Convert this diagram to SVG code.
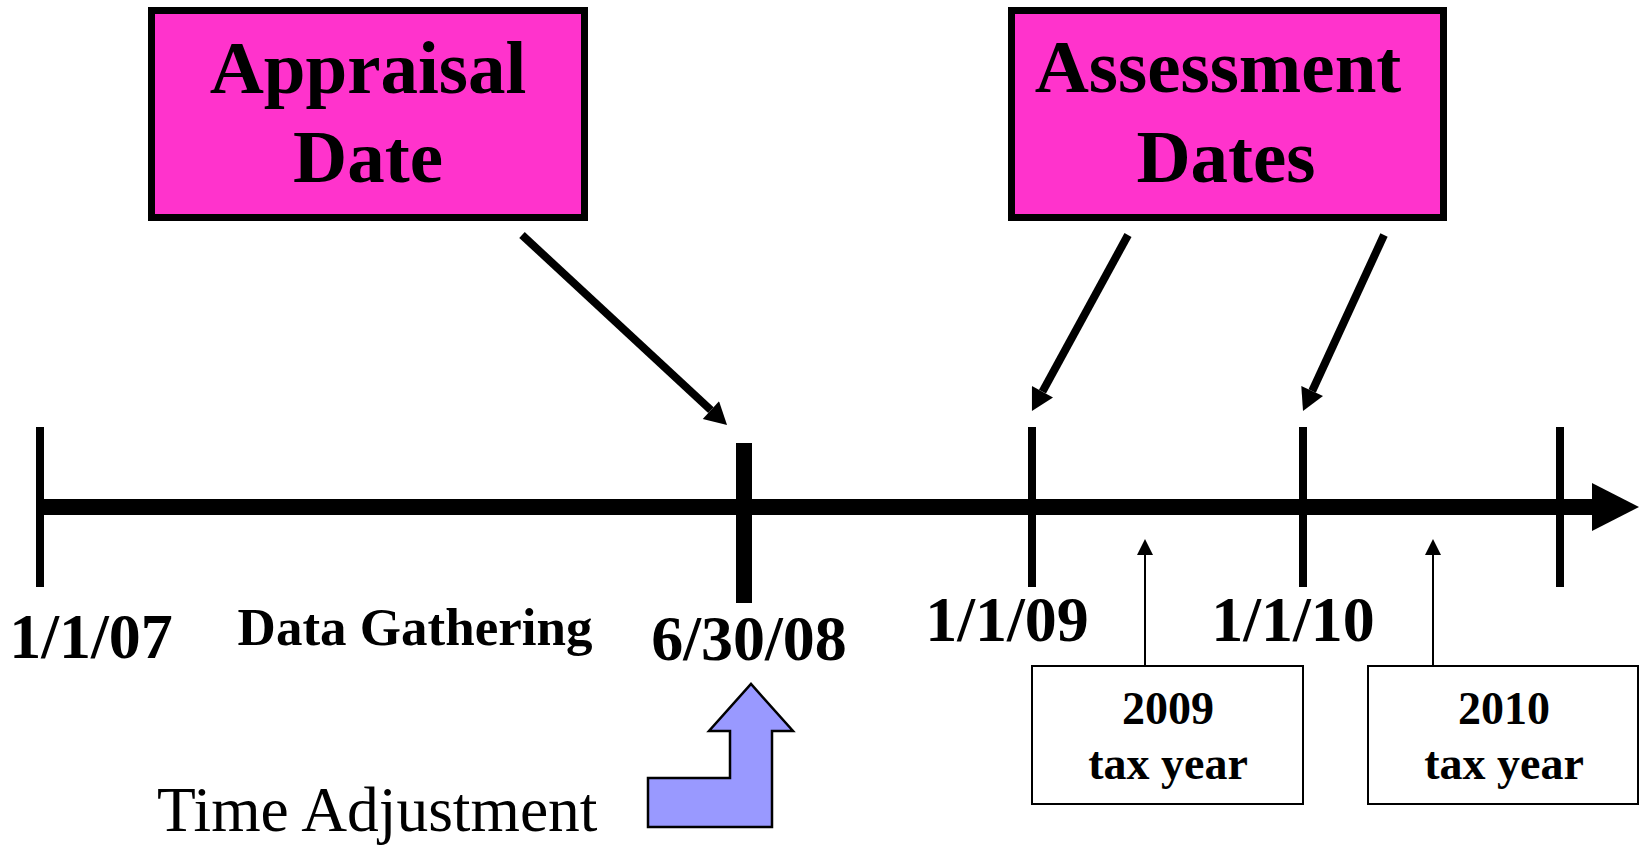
<svg xmlns="http://www.w3.org/2000/svg" width="1640" height="847" viewBox="0 0 1640 847">
<style>
.pink{fill:#FF33CC;stroke:#000;stroke-width:7}
.tax{fill:#fff;stroke:#000;stroke-width:2}
.t{font-family:"Liberation Serif","Times New Roman",serif;font-weight:bold;fill:#000;text-anchor:middle}
.big{font-size:75px}
.date{font-size:64px}
.small{font-size:46px}
.tick{stroke:#000;stroke-width:8}
.conn{stroke:#000;stroke-width:8;fill:none}
.thin{stroke:#000;stroke-width:2;fill:none}
</style>
<defs>
<marker id="head" markerUnits="userSpaceOnUse" markerWidth="24" markerHeight="24" viewBox="0 0 22 24" refX="0" refY="12" orient="auto">
<path d="M0,0 L22,12 L0,24 z" fill="#000"/>
</marker>
<marker id="headThin" markerUnits="userSpaceOnUse" markerWidth="16" markerHeight="16" viewBox="0 0 16 16" refX="0" refY="8" orient="auto">
<path d="M0,0 L16,8 L0,16 z" fill="#000"/>
</marker>
</defs>
<rect width="1640" height="847" fill="#fff"/>

<g id="timeline">
<line x1="40" y1="507" x2="1594" y2="507" stroke="#000" stroke-width="16"/>
<polygon points="1592,483 1639,507 1592,531" fill="#000"/>
<line class="tick" x1="40" y1="427" x2="40" y2="587"/>
<line x1="744" y1="443" x2="744" y2="603" stroke="#000" stroke-width="16"/>
<line class="tick" x1="1032" y1="427" x2="1032" y2="587"/>
<line class="tick" x1="1303" y1="427" x2="1303" y2="587"/>
<line class="tick" x1="1560" y1="427" x2="1560" y2="587"/>
</g>

<g id="appraisal-date">
<rect class="pink" x="151.5" y="10.5" width="433" height="207"/>
<text class="t big" x="368" y="93">Appraisal</text>
<text class="t big" x="368" y="182">Date</text>
</g>

<g id="assessment-dates">
<rect class="pink" x="1011.5" y="10.5" width="432" height="207"/>
<text class="t big" x="1218" y="92">Assessment</text>
<text class="t big" x="1226" y="182">Dates</text>
</g>

<g id="labels">
<text class="t date" x="91" y="658">1/1/07</text>
<text class="t" x="415" y="645" font-size="53">Data Gathering</text>
<text class="t date" x="749" y="660">6/30/08</text>
<text class="t date" x="1007" y="641">1/1/09</text>
<text class="t date" x="1293" y="641">1/1/10</text>
</g>

<g id="tax-2009">
<rect class="tax" x="1032" y="666" width="271" height="138"/>
<text class="t small" x="1168" y="724">2009</text>
<text class="t small" x="1168" y="779">tax year</text>
</g>

<g id="tax-2010">
<rect class="tax" x="1368" y="666" width="270" height="138"/>
<text class="t small" x="1504" y="724">2010</text>
<text class="t small" x="1504" y="779">tax year</text>
</g>

<g id="time-adjustment">
<polygon points="648,778 730,778 730,731 709,731 751,684 793,731 772,731 772,827 648,827" fill="#9999FF" stroke="#000" stroke-width="2.5" stroke-linejoin="miter"/>
<text x="157" y="831" font-family="'Liberation Serif','Times New Roman',serif" font-size="63.5" fill="#000">Time Adjustment</text>
</g>

<g id="connectors">
<line class="conn" x1="522" y1="235" x2="710.9" y2="410.1" marker-end="url(#head)"/>
<line class="conn" x1="1128" y1="235" x2="1042.5" y2="391.7" marker-end="url(#head)"/>
<line class="conn" x1="1384" y1="235" x2="1312.2" y2="391" marker-end="url(#head)"/>
<line class="thin" x1="1145" y1="666" x2="1145" y2="555" marker-end="url(#headThin)"/>
<line class="thin" x1="1433" y1="666" x2="1433" y2="555" marker-end="url(#headThin)"/>
</g>
</svg>
